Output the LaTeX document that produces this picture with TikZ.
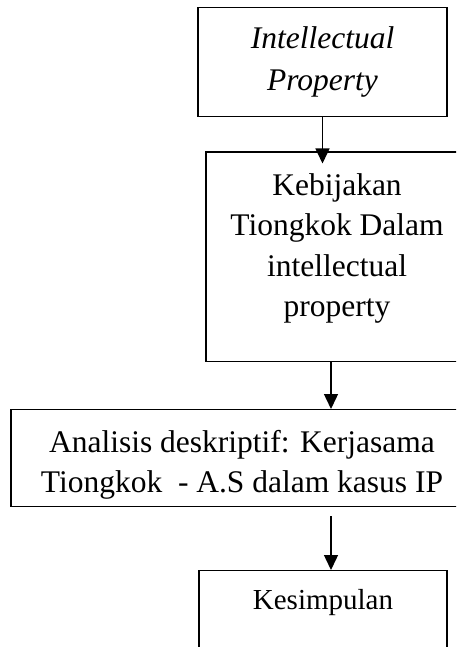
\documentclass[tikz,border=0pt]{standalone}
\usepackage{fontspec}
\setmainfont{Liberation Serif}
\usetikzlibrary{arrows.meta}

\newcommand{\PW}{456}
\newcommand{\PH}{647}

\tikzset{
    box/.style={draw, line width=1.4pt, inner sep=0pt, anchor=north, align=center,
        font=\fontsize{31.5}{40.5}\selectfont},
    flow/.style={line width=1.4pt, -{Triangle[length=15pt,width=14pt]}}
}

\begin{document}
\begin{tikzpicture}[x=1pt,y=1pt]
        \useasboundingbox (0,0) rectangle (\PW,-\PH);
        \clip (0,0) rectangle (\PW,-\PH);

        % boxes, top to bottom
        \path (322.5,-7) node [box, minimum width=249pt, text height=83pt, text depth=26pt,
            font=\fontsize{31.5}{42}\selectfont] (IP) {\textit{Intellectual}\\\textit{Property}};
        \path (337,-151.5) node [box, minimum width=262pt, text height=164.5pt, text depth=45pt]
            (KB) {Kebijakan\\Tiongkok Dalam\\intellectual\\property};
        \path (242,-409) node [box, minimum width=462pt, text height=83pt, text depth=14pt]
            (AD) {Analisis deskriptif: Kerjasama\\Tiongkok\ \ - A.S dalam kasus IP};
        \path (323,-570) node [box, minimum width=248pt, text height=39pt, text depth=100pt,
            font=\fontsize{29}{35}\selectfont] (KS) {Kesimpulan};

        % arrows
        \path ([xshift=-6pt]KB.south) coordinate (A2);
        \path ([xshift=8pt,yshift=-9pt]KS.north |- AD.south) coordinate (A3);
        \draw [flow] (IP.south) -- ([yshift=-12pt]IP.south |- KB.north);
        \draw [flow] (A2) -- (A2 |- AD.north);
        \draw [flow] (A3) -- (A3 |- KS.north);

    \end{tikzpicture}
\end{document}
